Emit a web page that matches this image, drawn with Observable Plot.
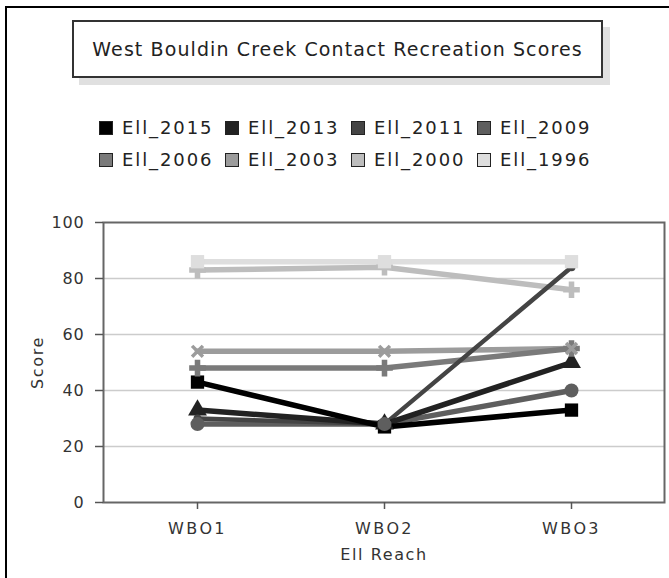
<!DOCTYPE html>
<html>
<head>
<meta charset="utf-8">
<script src="https://cdn.jsdelivr.net/npm/d3@7"></script>
<script src="https://cdn.jsdelivr.net/npm/@observablehq/plot@0.6"></script>
<style>
  html, body { margin: 0; padding: 0; background: #fff; }
  #wrap { position: relative; width: 669px; height: 578px; overflow: hidden; font-family: "DejaVu Sans", sans-serif; }
  #outer { position: absolute; left: 5px; top: 6px; width: 720px; height: 640px; border: 2px solid #000; box-sizing: border-box; }
  #title { position: absolute; left: 72px; top: 20px; width: 531px; height: 58px; border: 2px solid #333; box-sizing: border-box; background: #fff;
           box-shadow: 7px 7px 0 #e0e0e0; display: flex; align-items: center; justify-content: center; font-size: 19px; letter-spacing: 1.1px; color: #222; }
  #legend { position: absolute; left: 99px; top: 115px; display: grid; grid-template-columns: repeat(4, 126px); row-gap: 7px; font-size: 18px; letter-spacing: 1.9px; color: #222; }
  .item { display: flex; align-items: center; height: 25px; white-space: nowrap; }
  .sw { width: 14px; height: 14px; border: 1.5px solid #222; box-sizing: border-box; margin-right: 9px; }
  #chart { position: absolute; left: 0; top: 190px; }
</style>
</head>
<body>
<div id="wrap">
  <div id="outer"></div>
  <div id="title">West Bouldin Creek Contact Recreation Scores</div>
  <div id="legend"></div>
  <div id="chart"></div>
</div>
<script>
const reaches = ["WBO1", "WBO2", "WBO3"];
const seriesNames = ["EII_2015", "EII_2013", "EII_2011", "EII_2009", "EII_2006", "EII_2003", "EII_2000", "EII_1996"];
const legendLabels = ["Ell_2015", "Ell_2013", "Ell_2011", "Ell_2009", "Ell_2006", "Ell_2003", "Ell_2000", "Ell_1996"];
const seriesColors = ["#000000", "#222222", "#444444", "#5e5e5e", "#7a7a7a", "#9c9c9c", "#bdbdbd", "#dedede"];
const seriesSymbols = ["square", "triangle", "smallcircle", "circle", "cross", "times", "cross", "square"];
const eii2015 = [43, 27, 33];
const eii2013 = [33, 28, 50];
const eii2011 = [30, 28, 84];
const eii2009 = [28, 28, 40];
const eii2006 = [48, 48, 55];
const eii2003 = [54, 54, 55];
const eii2000 = [83, 84, 76];
const eii1996 = [86, 86, 86];
const seriesValues = [eii2015, eii2013, eii2011, eii2009, eii2006, eii2003, eii2000, eii1996];
const yTicks = [0, 20, 40, 60, 80, 100];

// legend
const leg = document.getElementById("legend");
legendLabels.forEach((lab, i) => {
  const it = document.createElement("div");
  it.className = "item";
  const sw = document.createElement("div");
  sw.className = "sw";
  sw.style.background = seriesColors[i];
  const tx = document.createElement("span");
  tx.textContent = lab;
  it.appendChild(sw); it.appendChild(tx);
  leg.appendChild(it);
});

const rows = [];
seriesNames.forEach((s, i) => {
  reaches.forEach((r, j) => rows.push({series: s, idx: i, reach: r, value: seriesValues[i][j]}));
});
const lineOrder = seriesNames.map((s, i) => i).reverse();
const dotOrder = seriesNames.map((s, i) => i);
const dotSize = {square: 7.5, triangle: 7, smallcircle: 4, circle: 7, cross: 7, times: 5};

const marks = [
  Plot.gridY(yTicks.filter(t => t > 0 && t < 100), {stroke: "#cccccc", strokeOpacity: 1, strokeWidth: 1.5}),
  ...lineOrder.map(i => Plot.line(rows.filter(d => d.idx === i), {
    x: "reach", y: "value", stroke: seriesColors[i], strokeWidth: i === 2 ? 4.5 : 5.5, strokeLinejoin: "round"
  })),
  ...dotOrder.map(i => {
    const key = seriesSymbols[i];
    const sym = key === "smallcircle" ? "circle" : key;
    const stroked = sym === "times";
    return Plot.dot(rows.filter(d => d.idx === i), {
      x: "reach", y: "value", symbol: sym, r: dotSize[key],
      fill: stroked ? "none" : seriesColors[i],
      stroke: stroked ? seriesColors[i] : "none",
      strokeWidth: stroked ? 3.5 : 0
    });
  }),
  Plot.frame({stroke: "#666", strokeWidth: 2}),
  Plot.axisY({ticks: yTicks, tickSize: 8, tickPadding: 11, stroke: "#555", strokeWidth: 1.5,
    label: "Score", labelAnchor: "center", labelArrow: "none", labelOffset: 72, fill: "#333"}),
  Plot.axisX({tickSize: 7, tickPadding: 13, stroke: "#555", strokeWidth: 1.5,
    label: "Ell Reach", labelAnchor: "center", labelArrow: "none", labelOffset: 57, fill: "#333"})
];

const chart = Plot.plot({
  width: 669,
  height: 388,
  marginLeft: 103,
  marginRight: 5,
  marginTop: 32,
  marginBottom: 76,
  style: {fontFamily: "DejaVu Sans, sans-serif", fontSize: "16px", color: "#333", background: "transparent"},
  x: {type: "point", domain: reaches, padding: 0.5},
  y: {domain: [0, 100]},
  marks
});
d3.select(chart).selectAll('g[aria-label="x-axis tick label"] text').attr("letter-spacing", "2.4px");
d3.select(chart).selectAll('g[aria-label="y-axis tick label"] text').attr("letter-spacing", "0.8px");
d3.select(chart).selectAll('g[aria-label="x-axis label"] text, g[aria-label="y-axis label"] text').attr("letter-spacing", "1.6px");
document.getElementById("chart").appendChild(chart);
</script>
</body>
</html>
